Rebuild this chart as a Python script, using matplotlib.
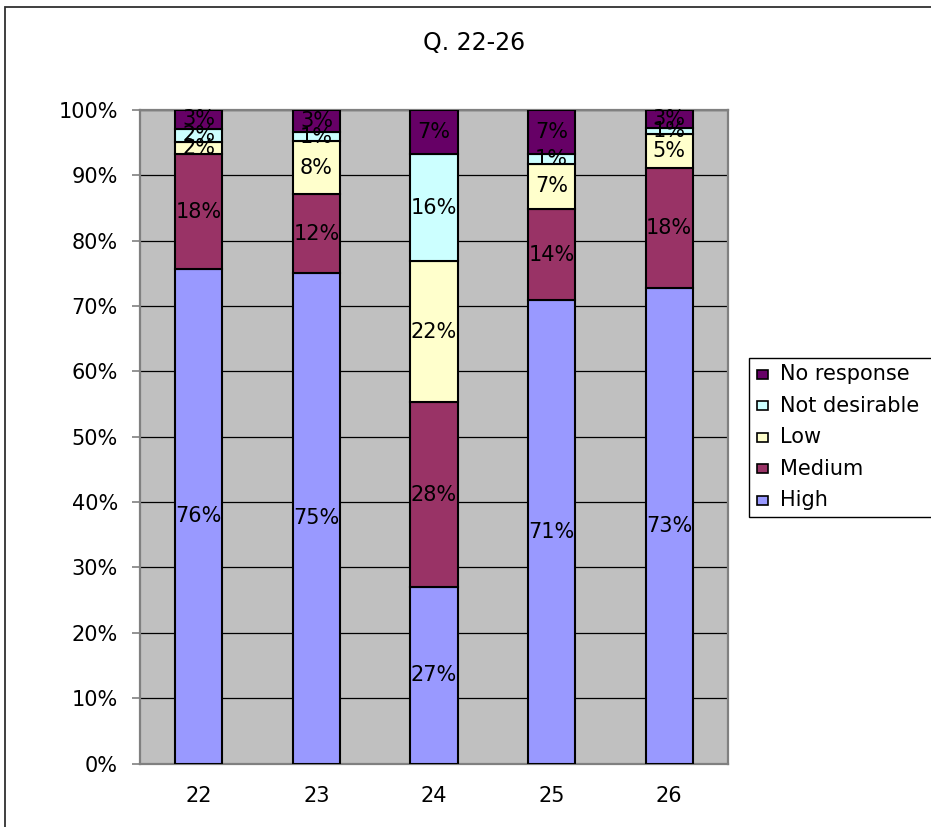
import matplotlib
matplotlib.use("Agg")
import matplotlib.pyplot as plt
from matplotlib.patches import Rectangle
import numpy as np

# Survey responses (percent of respondents) per question
questions = ["22", "23", "24", "25", "26"]
series_names = ["High", "Medium", "Low", "Not desirable", "No response"]
high = [75.6, 75.0, 27.0, 70.9, 72.8]
medium = [17.6, 12.1, 28.3, 13.9, 18.3]
low = [1.9, 8.1, 21.6, 7.0, 5.3]
not_desirable = [2.0, 1.4, 16.3, 1.4, 0.8]
no_response = [2.9, 3.4, 6.8, 6.8, 2.8]
y_ticks = [0, 10, 20, 30, 40, 50, 60, 70, 80, 90, 100]
title = "Q. 22-26"

series_values = [high, medium, low, not_desirable, no_response]
series_colors = ["#9999FF", "#993366", "#FFFFCC", "#CCFFFF", "#660066"]

W, H = 931, 827
FONT = 15
plt.rcParams["font.family"] = ["DejaVu Sans"]

fig = plt.figure(figsize=(W / 100, H / 100), dpi=100)


def fx(px):
    return px / W


def fy(py):
    return 1 - py / H


# outer chart frame (runs off the right and bottom edges)
fig.add_artist(Rectangle((fx(5), fy(900)), fx(1000) - fx(5), fy(7) - fy(900),
                         transform=fig.transFigure, facecolor="none",
                         edgecolor="#303030", linewidth=1.3, clip_on=False))

left, right, top, bottom = 140, 728, 110, 763.5
ax = fig.add_axes([fx(left), fy(bottom), fx(right) - fx(left), fy(top) - fy(bottom)])
ax.set_facecolor("#C0C0C0")

x = np.arange(len(questions))
base = np.zeros(len(questions))
for vals, col in zip(series_values, series_colors):
    vals = np.array(vals)
    ax.bar(x, vals, width=0.4, bottom=base, color=col, edgecolor="black",
           linewidth=1.5, zorder=3)
    for xi, b, v in zip(x, base, vals):
        ax.text(xi, b + v / 2, f"{v:.0f}%", ha="center", va="center",
                fontsize=FONT, color="black", zorder=4)
    base = base + vals

ax.set_xlim(-0.5, len(questions) - 0.5)
ax.set_ylim(0, 100)
ax.set_yticks(y_ticks)
ax.set_yticklabels([f"{t}%" for t in y_ticks], fontsize=FONT)
ax.set_xticks(x)
ax.set_xticklabels(questions, fontsize=FONT)
ax.tick_params(axis="y", length=6, width=1.2, color="#808080", pad=10)
ax.tick_params(axis="x", length=0, pad=16)

ax.yaxis.grid(True, color="black", linewidth=0.9)
ax.set_axisbelow(True)
for s in ax.spines.values():
    s.set_color("#808080")
    s.set_linewidth(1.6)

fig.text(fx(474), fy(43), title, ha="center", va="center", fontsize=17)

# legend, top entry is the last stacked series
lx0, ly0, lx1, ly1 = 749, 358, 960, 517
fig.add_artist(Rectangle((fx(lx0), fy(ly1)), fx(lx1) - fx(lx0), fy(ly0) - fy(ly1),
                         transform=fig.transFigure, facecolor="white",
                         edgecolor="black", linewidth=1.0, clip_on=False))
for i, (name, col) in enumerate(zip(series_names[::-1], series_colors[::-1])):
    cy = 374 + i * 31.6
    fig.add_artist(Rectangle((fx(757), fy(cy + 4.5)), fx(768) - fx(757), fy(cy - 4.5) - fy(cy + 4.5),
                             transform=fig.transFigure, facecolor=col,
                             edgecolor="black", linewidth=1.2))
    fig.text(fx(780), fy(cy), name, ha="left", va="center", fontsize=FONT)

fig.savefig("out.png", dpi=100)
